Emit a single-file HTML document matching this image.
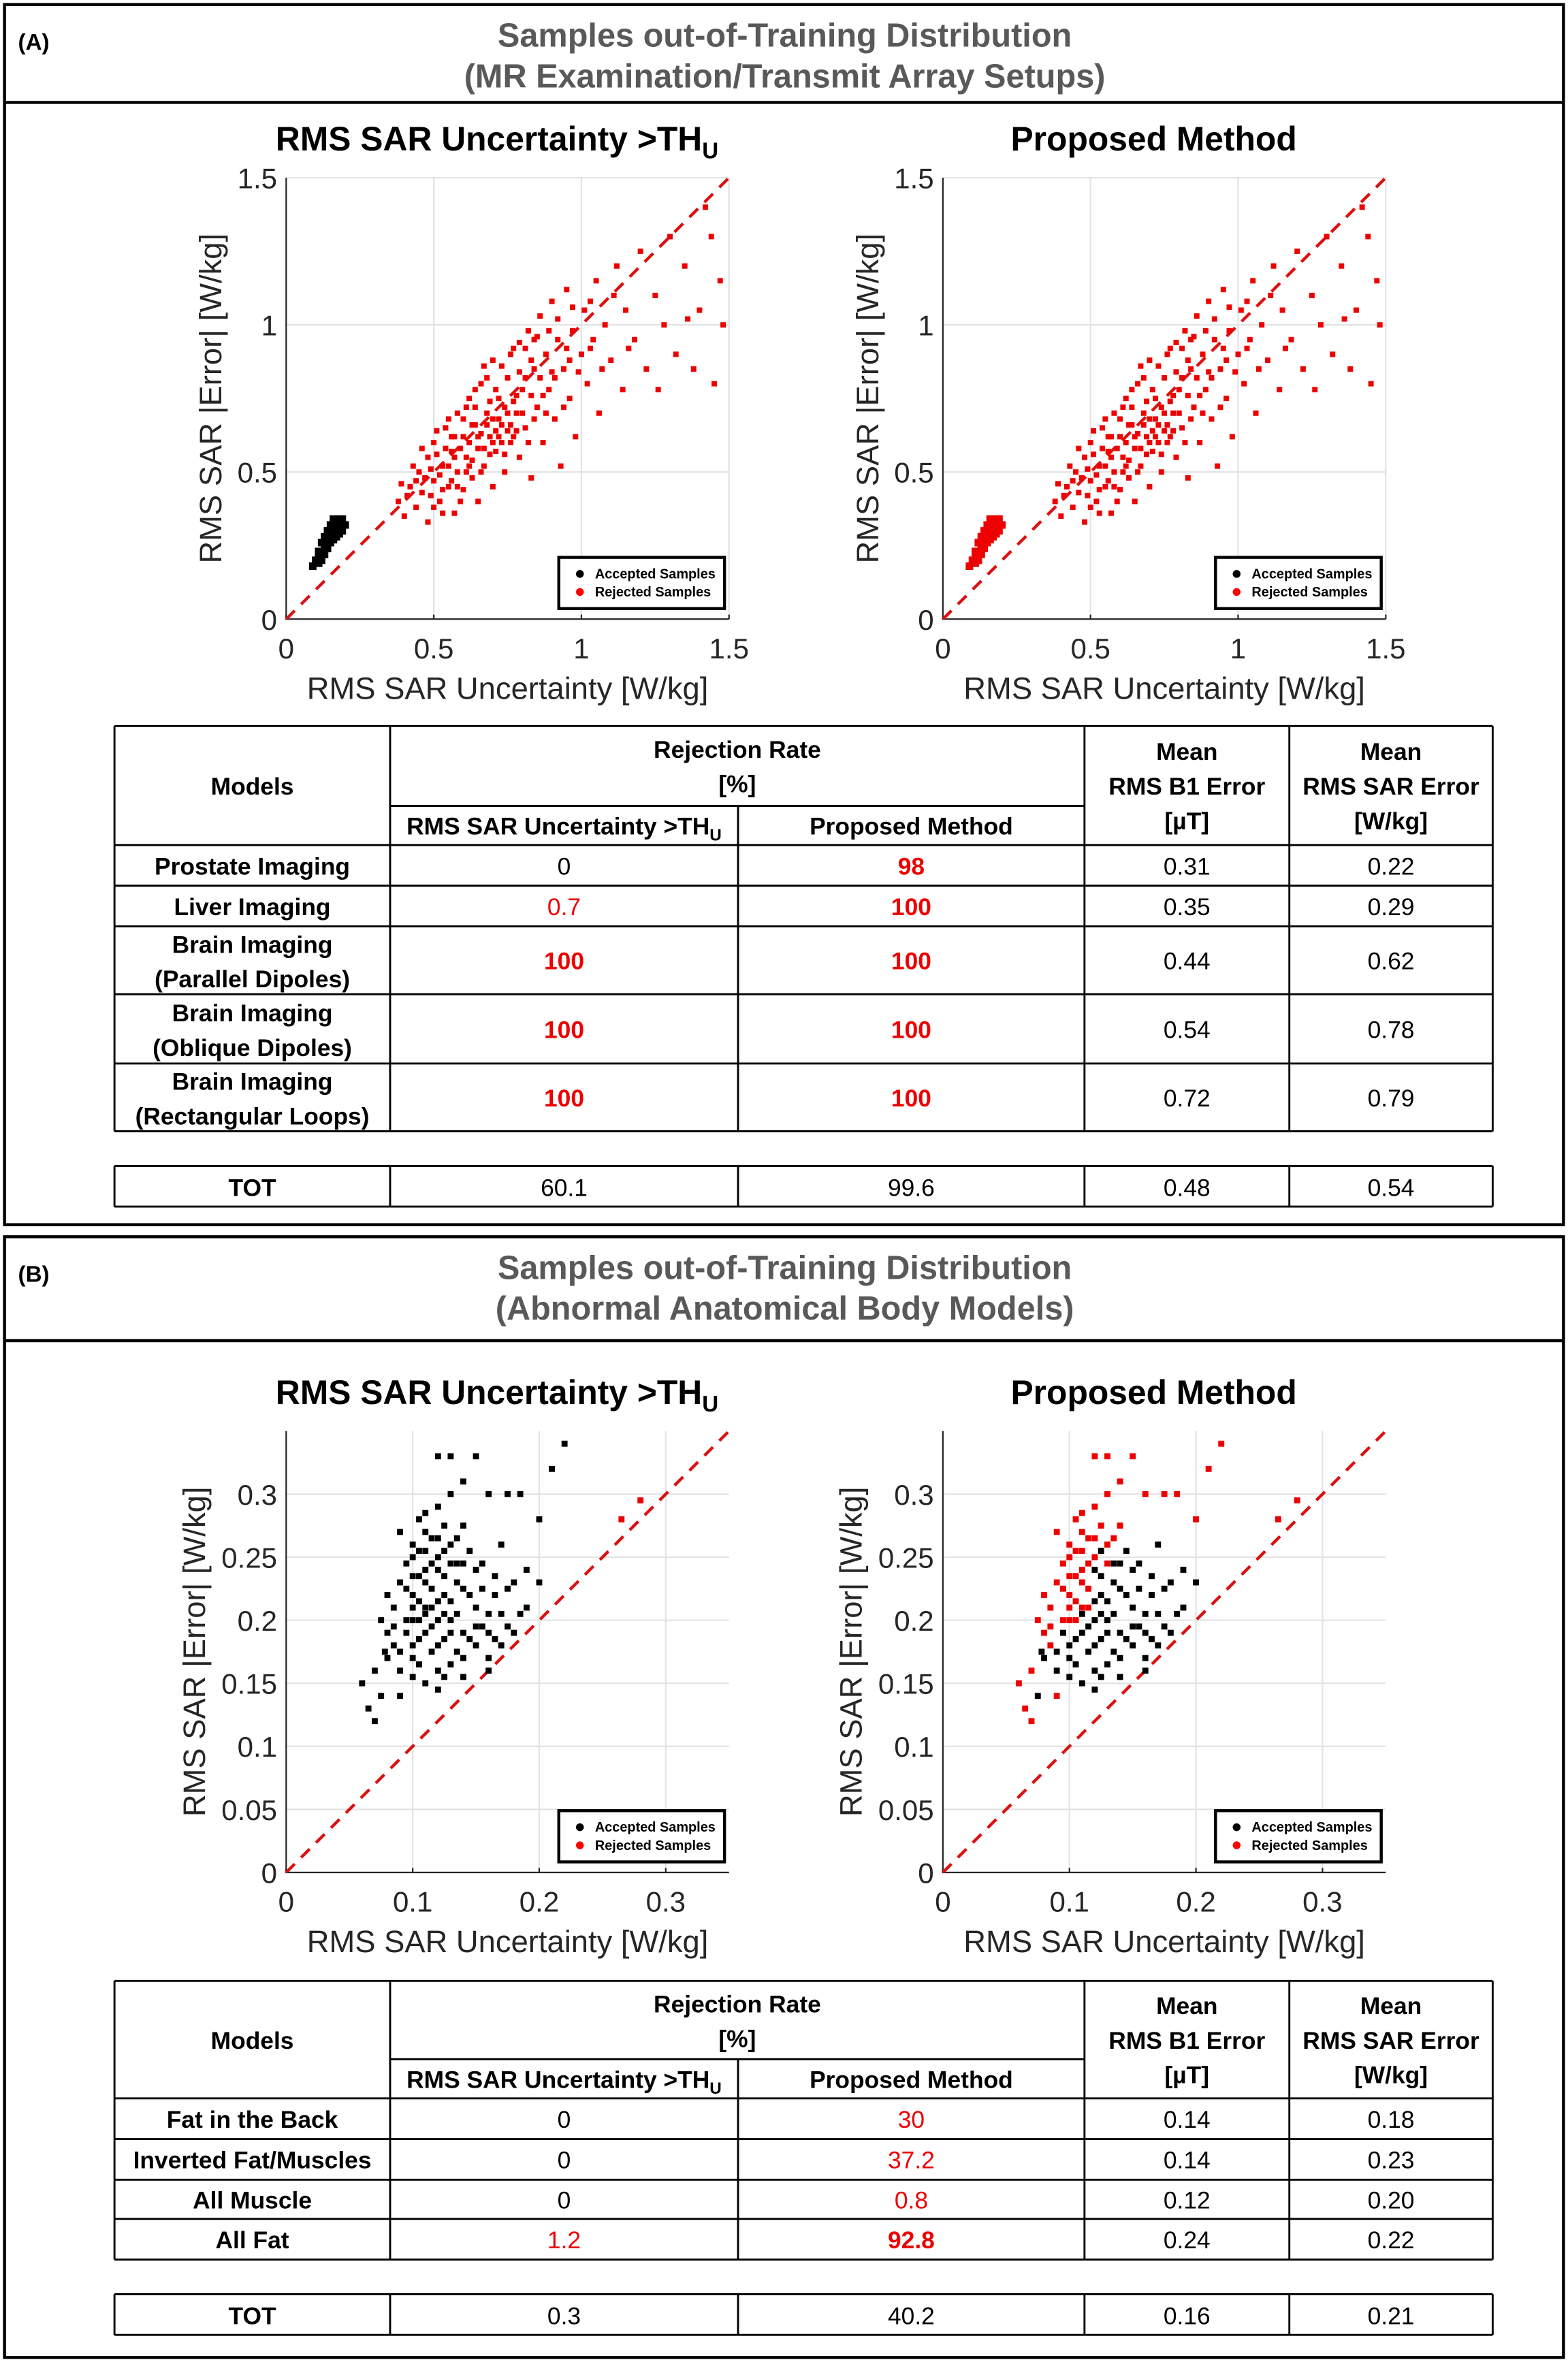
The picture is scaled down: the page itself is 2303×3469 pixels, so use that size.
<!DOCTYPE html>
<html><head><meta charset="utf-8">
<style>
html,body{margin:0;padding:0;background:#fff;}
svg{display:block;font-family:"Liberation Sans",Arial,sans-serif;}
</style></head>
<body>
<svg id="fig" width="2303" height="3469" viewBox="0 0 1041 1568" preserveAspectRatio="none" xmlns="http://www.w3.org/2000/svg">
<rect x="0" y="0" width="1041" height="1568" fill="#fff"/>
<g id="root"></g>
</svg>
<script>
// ---------- data ----------
const ticksA = [0, 0.5, 1, 1.5];
const tickLabelsA = ["0", "0.5", "1", "1.5"];
const ticksB = [0, 0.05, 0.1, 0.15, 0.2, 0.25, 0.3];
const tickLabelsBy = ["0", "0.05", "0.1", "0.15", "0.2", "0.25", "0.3"];
const ticksBx = [0, 0.1, 0.2, 0.3];
const tickLabelsBx = ["0", "0.1", "0.2", "0.3"];

const redA = [[0.38,0.40],[0.40,0.35],[0.42,0.45],[0.44,0.38],[0.45,0.50],[0.46,0.43],[0.48,0.55],[0.48,0.33],[0.50,0.47],[0.50,0.60],[0.52,0.40],[0.53,0.52],[0.54,0.65],[0.55,0.45],[0.56,0.57],[0.57,0.36],[0.58,0.50],[0.58,0.70],[0.60,0.62],[0.60,0.44],[0.61,0.55],[0.62,0.75],[0.63,0.48],[0.64,0.66],[0.65,0.58],[0.65,0.40],[0.66,0.80],[0.67,0.52],[0.68,0.70],[0.69,0.62],[0.70,0.45],[0.70,0.88],[0.71,0.57],[0.72,0.75],[0.73,0.66],[0.74,0.50],[0.75,0.82],[0.76,0.60],[0.77,0.92],[0.78,0.70],[0.79,0.55],[0.80,0.78],[0.81,0.65],[0.82,0.98],[0.83,0.48],[0.84,0.85],[0.85,0.72],[0.86,1.03],[0.87,0.60],[0.88,0.90],[0.89,0.78],[0.90,1.08],[0.91,0.68],[0.92,0.95],[0.93,0.52],[0.94,0.85],[0.95,1.12],[0.96,0.75],[0.97,0.98],[0.98,0.62],[1.00,0.90],[1.01,1.05],[1.02,0.80],[1.04,0.95],[1.05,1.15],[1.06,0.70],[1.08,1.00],[1.10,0.88],[1.12,1.20],[1.14,0.78],[1.15,1.05],[1.18,0.95],[1.20,1.25],[1.22,0.85],[1.25,1.10],[1.28,1.00],[1.30,1.30],[1.32,0.90],[1.35,1.20],[1.38,0.85],[1.40,1.05],[1.42,1.40],[1.45,0.80],[1.47,1.15],[1.48,1.00],[1.44,1.30],[1.36,1.02],[1.26,0.78],[0.47,0.48],[0.52,0.49],[0.55,0.52],[0.59,0.58],[0.62,0.60],[0.66,0.63],[0.68,0.66],[0.72,0.68],[0.74,0.72],[0.57,0.62],[0.63,0.54],[0.69,0.74],[0.76,0.66],[0.79,0.84],[0.83,0.76],[0.86,0.82],[0.44,0.47],[0.51,0.56],[0.58,0.45],[0.64,0.72],[0.71,0.64],[0.77,0.62],[0.81,0.92],[0.88,0.70],[0.49,0.42],[0.53,0.44],[0.56,0.47],[0.61,0.50],[0.67,0.58],[0.73,0.60],[0.78,0.76],[0.84,0.95],[0.91,0.82],[0.96,0.88],[1.03,0.92],[0.67,0.86],[0.60,0.68],[0.54,0.58],
 [0.43,0.52],[0.46,0.58],[0.49,0.51],[0.51,0.64],[0.53,0.36],[0.55,0.68],[0.57,0.55],[0.59,0.40],[0.61,0.72],[0.62,0.52],[0.64,0.78],[0.65,0.62],[0.66,0.50],[0.68,0.82],[0.69,0.56],[0.70,0.68],[0.71,0.78],[0.72,0.62],[0.73,0.86],[0.74,0.56],[0.75,0.70],[0.76,0.90],[0.77,0.74],[0.78,0.64],[0.79,0.94],[0.80,0.70],[0.81,0.82],[0.82,0.60],[0.83,0.88],[0.85,0.96],[0.87,0.76],[0.89,0.98],[0.90,0.84],[0.92,1.02],[0.94,0.72],[0.95,0.92],[0.97,1.06],[0.99,0.84],[1.03,1.08],[1.07,0.85],[0.41,0.42],[0.39,0.46],[0.50,0.38],[0.56,0.62],[0.63,0.66],[0.70,0.60],[0.75,0.64],[0.84,0.68],[1.11,1.10],[1.16,0.92]];
const clusterA = [[0.10,0.20],[0.11,0.23],[0.12,0.26],[0.13,0.28],[0.14,0.30],[0.15,0.32],[0.16,0.34],[0.17,0.33],[0.18,0.32],[0.19,0.30],[0.12,0.22],[0.13,0.25],[0.14,0.27],[0.15,0.29],[0.16,0.30],[0.17,0.28],[0.11,0.19],[0.12,0.20],[0.14,0.24],[0.16,0.27],[0.18,0.29],[0.09,0.18],[0.15,0.26],[0.13,0.22],[0.17,0.31],[0.20,0.32],[0.19,0.34],[0.11,0.21],[0.13,0.24],[0.15,0.28],[0.16,0.32],[0.18,0.34]];
// [uncertainty, error, rejectedByProposed]
const ptsB = [[0.06,0.15,1],[0.065,0.13,1],[0.07,0.12,1],[0.07,0.16,1],[0.075,0.14,0],[0.08,0.17,0],[0.08,0.19,1],[0.085,0.21,1],[0.09,0.23,1],[0.09,0.16,0],[0.095,0.20,1],[0.10,0.22,1],[0.10,0.18,0],[0.10,0.25,1],[0.105,0.20,1],[0.11,0.23,1],[0.11,0.19,0],[0.11,0.27,1],[0.115,0.21,1],[0.12,0.24,0],[0.12,0.18,0],[0.12,0.16,0],[0.125,0.22,0],[0.13,0.20,0],[0.13,0.26,1],[0.135,0.23,0],[0.14,0.19,0],[0.14,0.17,0],[0.145,0.22,0],[0.15,0.21,0],[0.15,0.24,0],[0.16,0.19,0],[0.16,0.17,0],[0.165,0.22,0],[0.17,0.18,0],[0.18,0.19,0],[0.19,0.21,0],[0.105,0.28,1],[0.12,0.29,1],[0.13,0.30,1],[0.09,0.27,1],[0.14,0.31,1],[0.10,0.17,0],[0.11,0.15,0],[0.09,0.14,1],[0.105,0.165,0],[0.125,0.155,0],[0.135,0.175,0],[0.155,0.195,0],[0.175,0.225,0],[0.12,0.33,1],[0.13,0.33,1],[0.15,0.33,1],[0.175,0.30,1],[0.185,0.30,1],[0.16,0.30,1],[0.21,0.32,1],[0.22,0.34,1],[0.20,0.28,1],[0.19,0.24,0],[0.2,0.23,0],[0.17,0.26,0],[0.18,0.23,0],[0.1,0.2,1],[0.11,0.21,1],[0.115,0.195,0],[0.095,0.225,1],[0.125,0.205,0],[0.105,0.235,1],[0.115,0.245,1],[0.085,0.18,1],[0.075,0.20,1],[0.13,0.215,0],[0.14,0.245,0],[0.12,0.265,1],[0.11,0.255,1],[0.1,0.26,1],
 [0.095,0.19,0],[0.10,0.21,1],[0.105,0.215,1],[0.11,0.205,0],[0.115,0.225,1],[0.12,0.215,0],[0.125,0.235,0],[0.13,0.245,1],[0.135,0.205,0],[0.14,0.225,0],[0.145,0.185,0],[0.15,0.195,0],[0.155,0.225,0],[0.16,0.205,0],[0.165,0.185,0],[0.17,0.205,0],[0.105,0.185,0],[0.115,0.175,0],[0.125,0.185,0],[0.13,0.165,0],[0.14,0.155,0],[0.12,0.145,0],[0.1,0.155,0],[0.09,0.175,0],[0.085,0.195,1],[0.095,0.245,1],[0.105,0.255,1],[0.115,0.265,1],[0.125,0.255,0],[0.135,0.265,1],[0.14,0.275,1],[0.125,0.275,1],[0.11,0.285,1],[0.145,0.255,0],[0.155,0.245,0],[0.165,0.235,0],[0.175,0.195,0],[0.185,0.205,0],[0.08,0.22,1],[0.078,0.175,0],[0.1,0.235,1],[0.12,0.2,0],[0.13,0.19,0],[0.11,0.24,1],[0.12,0.25,1],[0.135,0.245,0],[0.15,0.18,0],[0.16,0.16,0],[0.265,0.28,1],[0.28,0.295,1]];

const tableA = [
 ["Prostate Imaging", "", "0", "98", "0.31", "0.22"],
 ["Liver Imaging", "", "0.7", "100", "0.35", "0.29"],
 ["Brain Imaging", "(Parallel Dipoles)", "100", "100", "0.44", "0.62"],
 ["Brain Imaging", "(Oblique Dipoles)", "100", "100", "0.54", "0.78"],
 ["Brain Imaging", "(Rectangular Loops)", "100", "100", "0.72", "0.79"]];
const styleA = [["n","b"],["r","b"],["b","b"],["b","b"],["b","b"]];
const totA = ["TOT", "60.1", "99.6", "0.48", "0.54"];
const tableB = [
 ["Fat in the Back", "", "0", "30", "0.14", "0.18"],
 ["Inverted Fat/Muscles", "", "0", "37.2", "0.14", "0.23"],
 ["All Muscle", "", "0", "0.8", "0.12", "0.20"],
 ["All Fat", "", "1.2", "92.8", "0.24", "0.22"]];
const styleB = [["n","r"],["n","r"],["n","r"],["r","b"]];
const totB = ["TOT", "0.3", "40.2", "0.16", "0.21"];

// ---------- helpers ----------
const NS = "http://www.w3.org/2000/svg";
const root = document.getElementById("root");
function mk(tag, attrs, parent) {
  const e = document.createElementNS(NS, tag);
  for (const k in attrs) e.setAttribute(k, attrs[k]);
  (parent || root).appendChild(e);
  return e;
}
function txt(x, y, s, size, opts, parent) {
  opts = opts || {};
  const t = mk("text", {x: x, y: y, "font-size": size, "text-anchor": opts.anchor || "middle",
    "font-weight": opts.bold ? "bold" : "normal", fill: opts.fill || "#000"}, parent);
  if (opts.transform) t.setAttribute("transform", opts.transform);
  t.textContent = s;
  
  
  return t;
}

// ---------- panels ----------
function panel(y0, y1, hdr, letter, t1, t2) {
  const r = mk("rect", {x: 3, y: y0, width: 1035, height: y1 - y0, fill: "none", stroke: "#000", "stroke-width": 2});
  
  
  const l = mk("line", {x1: 3, x2: 1038, y1: hdr, y2: hdr, stroke: "#000", "stroke-width": 2});
  
  
  txt(12, y0 + 30, "(" + letter + ")", 15, {anchor: "start", bold: true, name: "panel-letter"});
  txt(521, y0 + 28, t1, 22, {bold: true, fill: "#595959", name: "panel-title"});
  txt(521, y0 + 55, t2, 22, {bold: true, fill: "#595959", name: "panel-subtitle"});
}
panel(3, 813, 68, "A", "Samples out-of-Training Distribution", "(MR Examination/Transmit Array Setups)");
panel(821, 1565, 890, "B", "Samples out-of-Training Distribution", "(Abnormal Anatomical Body Models)");

// ---------- scatter ----------
function scatter(ax0, ayTop, ayBot, xmax, ymax, xt, xtl, yt, ytl, title, useUTitle, drawPts, name) {
  const g = mk("g", {});
  
  
  const W = 294, H = ayBot - ayTop;
  const sx = v => ax0 + v / xmax * W;
  const sy = v => ayBot - v / ymax * H;
  xt.forEach((v, i) => {
    if (v > 0) {
      const gl = mk("line", {x1: sx(v), x2: sx(v), y1: ayTop, y2: ayBot, stroke: "#e3e3e3", "stroke-width": 1}, g);
      
      
    }
    const tk = mk("line", {x1: sx(v), x2: sx(v), y1: ayBot, y2: ayBot - 3, stroke: "#262626", "stroke-width": 1}, g);
    
    
    txt(sx(v), ayBot + 26, xtl[i], 19, {fill: "#262626", name: "x-tick-label"}, g);
  });
  yt.forEach((v, i) => {
    if (v > 0) {
      const gl = mk("line", {x1: ax0, x2: ax0 + W, y1: sy(v), y2: sy(v), stroke: "#e3e3e3", "stroke-width": 1}, g);
      
      
    }
    txt(ax0 - 6, sy(v) + 7, ytl[i], 19, {anchor: "end", fill: "#262626", name: "y-tick-label"}, g);
  });
  const axl = mk("path", {d: `M${ax0},${ayTop} V${ayBot} H${ax0 + W}`, fill: "none", stroke: "#262626", "stroke-width": 1}, g);
  
  
  const lim = Math.min(xmax, ymax);
  const dl = mk("line", {x1: sx(0), y1: sy(0), x2: sx(lim), y2: sy(lim), stroke: "#dd1010", "stroke-width": 2, "stroke-dasharray": "8,6"}, g);
  
  
  drawPts(g, sx, sy);
  const tt = txt(ax0 + 140, ayTop - 18, title, 22.5, {bold: true, name: "plot-title"}, g);
  if (useUTitle) {
    const sp = document.createElementNS(NS, "tspan");
    sp.setAttribute("font-size", "15");
    sp.setAttribute("dy", "5");
    sp.textContent = "U";
    tt.appendChild(sp);
  }
  txt(ax0 + 147, ayBot + 53, "RMS SAR Uncertainty [W/kg]", 20.5, {fill: "#262626", name: "x-axis-title"}, g);
  const yx = xmax > 1 ? ax0 - 43 : ax0 - 54;
  txt(yx, (ayTop + ayBot) / 2, "RMS SAR |Error| [W/kg]", 20.5, {fill: "#262626", name: "y-axis-title", transform: `rotate(-90 ${yx} ${(ayTop + ayBot) / 2})`}, g);
  const lx = ax0 + 181, ly = ayBot - 41;
  const lg = mk("g", {}, g);
  
  
  mk("rect", {x: lx, y: ly, width: 110, height: 34, fill: "#fff", stroke: "#000", "stroke-width": 2}, lg);
  mk("circle", {cx: lx + 14, cy: ly + 11, r: 2.6, fill: "#000"}, lg);
  mk("circle", {cx: lx + 14, cy: ly + 23, r: 2.6, fill: "#f00"}, lg);
  txt(lx + 24, ly + 14, "Accepted Samples", 9, {anchor: "start", bold: true, name: "legend-entry-accepted"}, lg);
  txt(lx + 24, ly + 26, "Rejected Samples", 9, {anchor: "start", bold: true, name: "legend-entry-rejected"}, lg);
}
function dot(g, x, y, col, s) {
  const r = mk("rect", {x: x - s / 2, y: y - s / 2, width: s, height: s, fill: col}, g);
  
  
}
scatter(190, 118, 411, 1.5, 1.5, ticksA, tickLabelsA, ticksA, tickLabelsA, "RMS SAR Uncertainty >TH", true, (g, sx, sy) => {
  redA.forEach(p => dot(g, sx(p[0]), sy(p[1]), "#ee0000", 3.6));
  clusterA.forEach(p => dot(g, sx(p[0]), sy(p[1]), "#000", 5));
}, "scatter-a-threshold");
scatter(626, 118, 411, 1.5, 1.5, ticksA, tickLabelsA, ticksA, tickLabelsA, "Proposed Method", false, (g, sx, sy) => {
  redA.forEach(p => dot(g, sx(p[0]), sy(p[1]), "#ee0000", 3.6));
  clusterA.forEach(p => dot(g, sx(p[0]), sy(p[1]), "#ee0000", 5));
}, "scatter-a-proposed");
scatter(190, 950, 1243, 0.35, 0.35, ticksBx, tickLabelsBx, ticksB, tickLabelsBy, "RMS SAR Uncertainty >TH", true, (g, sx, sy) => {
  ptsB.forEach((p, i) => dot(g, sx(p[0]), sy(p[1]), i >= ptsB.length - 2 ? "#ee0000" : "#000", 4));
}, "scatter-b-threshold");
scatter(626, 950, 1243, 0.35, 0.35, ticksBx, tickLabelsBx, ticksB, tickLabelsBy, "Proposed Method", false, (g, sx, sy) => {
  ptsB.forEach(p => dot(g, sx(p[0]), sy(p[1]), p[2] ? "#ee0000" : "#000", 4));
}, "scatter-b-proposed");

// ---------- tables ----------
const cols = [76, 259, 490, 720, 856, 991];
function table(top, sub, hb, rowsY, rows, styles, totTop, tot, name) {
  const g = mk("g", {});
  
  
  const L = (x1, y1, x2, y2) => {
    const l = mk("line", {x1: x1, y1: y1, x2: x2, y2: y2, stroke: "#000", "stroke-width": 1.3}, g);
    
    
  };
  const bottom = rowsY[rowsY.length - 1];
  L(cols[0], top, cols[5], top);
  L(cols[1], sub, cols[3], sub);
  [hb].concat(rowsY).forEach(y => L(cols[0], y, cols[5], y));
  cols.forEach((x, i) => L(x, (i === 2) ? sub : top, x, bottom));
  const c = i => (cols[i] + cols[i + 1]) / 2;
  const hm = (top + hb) / 2;
  txt(c(0), hm + 6, "Models", 16, {bold: true, name: "header-models"}, g);
  txt((cols[1] + cols[3]) / 2, top + 21, "Rejection Rate", 16, {bold: true, name: "header-rejection-rate"}, g);
  txt((cols[1] + cols[3]) / 2, top + 44, "[%]", 16, {bold: true, name: "header-percent"}, g);
  const su = txt(c(1), (sub + hb) / 2 + 6, "RMS SAR Uncertainty >TH", 16, {bold: true, name: "header-threshold"}, g);
  const sp = document.createElementNS(NS, "tspan");
  sp.setAttribute("font-size", "11"); sp.setAttribute("dy", "4"); sp.textContent = "U";
  su.appendChild(sp);
  txt(c(2), (sub + hb) / 2 + 6, "Proposed Method", 16, {bold: true, name: "header-proposed"}, g);
  txt(c(3), hm - 17, "Mean", 16, {bold: true, name: "header-b1"}, g);
  txt(c(3), hm + 6, "RMS B1 Error", 16, {bold: true, name: "header-b1"}, g);
  txt(c(3), hm + 29, "[µT]", 16, {bold: true, name: "header-b1"}, g);
  txt(c(4), hm - 17, "Mean", 16, {bold: true, name: "header-sar"}, g);
  txt(c(4), hm + 6, "RMS SAR Error", 16, {bold: true, name: "header-sar"}, g);
  txt(c(4), hm + 29, "[W/kg]", 16, {bold: true, name: "header-sar"}, g);
  let prev = hb;
  rows.forEach((r, ri) => {
    const y = rowsY[ri], m = (prev + y) / 2;
    if (r[1]) {
      txt(c(0), m - 5, r[0], 16, {bold: true, name: "row-model"}, g);
      txt(c(0), m + 18, r[1], 16, {bold: true, name: "row-model"}, g);
    } else txt(c(0), m + 6, r[0], 16, {bold: true, name: "row-model"}, g);
    [2, 3].forEach((k, j) => {
      const st = styles[ri][j];
      txt(c(k - 1), m + 6, r[k], 16, {bold: st === "b", fill: st === "n" ? "#000" : "#ee0000", name: "rejection-cell"}, g);
    });
    txt(c(3), m + 6, r[4], 16, {name: "b1-error-cell"}, g);
    txt(c(4), m + 6, r[5], 16, {name: "sar-error-cell"}, g);
    prev = y;
  });
  const tb = totTop + 27;
  L(cols[0], totTop, cols[5], totTop);
  L(cols[0], tb, cols[5], tb);
  cols.forEach(x => L(x, totTop, x, tb));
  tot.forEach((v, i) => txt(c(i), totTop + 20, v, 16, {bold: i === 0, name: "total-cell"}, g));
}
table(482, 535, 561, [588, 615, 660, 706, 751], tableA, styleA, 774, totA, "table-a");
table(1315, 1367, 1393, [1420, 1447, 1473, 1500], tableB, styleB, 1523, totB, "table-b");
</script>
</body></html>
